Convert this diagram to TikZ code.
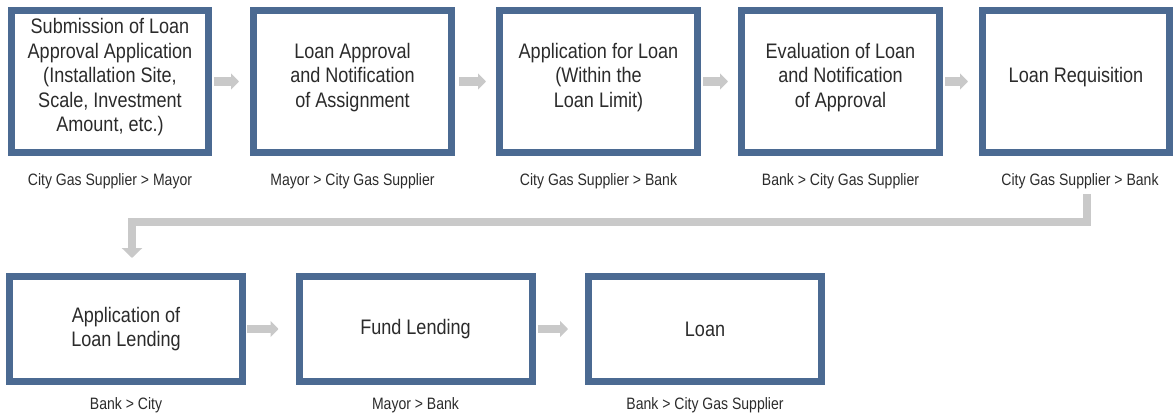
\documentclass[tikz,border=0pt]{standalone}
\usepackage{fontspec}
\setmainfont[FakeStretch=0.86]{Liberation Sans}
\newfontfamily\labfont[FakeStretch=0.85]{Liberation Sans}
\usetikzlibrary{arrows.meta}
\definecolor{boxblue}{HTML}{4B6A92}
\definecolor{arrgray}{HTML}{C9C9C9}
\definecolor{txt}{HTML}{2B2B2B}
\begin{document}
\begin{tikzpicture}[x=1pt,y=-1pt,
  stepbox/.style={draw=boxblue, line width=7pt, fill=white, inner sep=0pt},
  toprow/.style={stepbox, minimum height=142pt},
  botrow/.style={stepbox, minimum height=105pt, minimum width=233pt},
  boxtext/.style={align=center, text=txt, font=\fontsize{21}{24.5}\selectfont, inner sep=0pt},
  lab/.style={text=txt, font=\labfont\fontsize{16.5}{18}\selectfont, inner sep=0pt},
  arr/.style={draw=arrgray, line width=8.5pt, -{Triangle[width=16pt,length=8pt]}},
  looparr/.style={draw=arrgray, line width=8pt, line join=miter, -{Triangle[width=20pt,length=10pt]}}
]
\useasboundingbox (0,0) rectangle (1176,417);
% top row
\node[toprow, minimum width=197pt] (b1) at (110,81.5) {};
\node[toprow, minimum width=198pt] (b2) at (352.5,81.5) {};
\node[toprow, minimum width=198pt] (b3) at (598.5,81.5) {};
\node[toprow, minimum width=198pt] (b4) at (840.5,81.5) {};
\node[toprow, minimum width=187pt] (b5) at (1076,81.5) {};
\node[boxtext] (t1) at ([yshift=4pt]b1.center) {Submission of Loan\\Approval Application\\(Installation Site,\\Scale, Investment\\Amount, etc.)};
\node[boxtext] (t2) at ([yshift=4pt]b2.center) {Loan Approval\\and Notification\\of Assignment};
\node[boxtext] (t3) at ([yshift=4pt]b3.center) {Application for Loan\\(Within the\\Loan Limit)};
\node[boxtext] (t4) at ([yshift=4pt]b4.center) {Evaluation of Loan\\and Notification\\of Approval};
\node[boxtext] (t5) at ([yshift=4pt]b5.center) {Loan Requisition};
% bottom row
\node[botrow] (b6) at (126,329) {};
\node[botrow] (b7) at (415.5,329) {};
\node[botrow] (b8) at (705,329) {};
\node[boxtext] (t6) at (b6.center) {Application of\\Loan Lending};
\node[boxtext] (t7) at (b7.center) {Fund Lending};
\node[boxtext] (t8) at (b8.center) {Loan};
% labels
\node[lab] (l1) at (110,181) {City Gas Supplier > Mayor};
\node[lab] (l2) at (352.5,181) {Mayor > City Gas Supplier};
\node[lab] (l3) at (598.5,181) {City Gas Supplier > Bank};
\node[lab] (l4) at (840.5,181) {Bank > City Gas Supplier};
\node[lab] (l5) at (1080,181) {City Gas Supplier > Bank};
\node[lab] (l6) at (126,405) {Bank > City};
\node[lab] (l7) at (415.5,405) {Mayor > Bank};
\node[lab] (l8) at (705,405) {Bank > City Gas Supplier};
% arrows
\draw[arr] ([xshift=2pt]b1.east) -- ([xshift=-11pt]b2.west);
\draw[arr] ([xshift=4pt]b2.east) -- ([xshift=-10pt]b3.west);
\draw[arr] ([xshift=2pt]b3.east) -- ([xshift=-10pt]b4.west);
\draw[arr] ([xshift=2pt]b4.east) -- ([xshift=-11pt]b5.west);
\draw[arr] ([xshift=1pt]b6.east) -- ([xshift=-17pt]b7.west);
\draw[arr] ([xshift=2pt]b7.east) -- ([xshift=-17pt]b8.west);
% loop connector
\coordinate (ls) at (1087,194);
\coordinate (lc) at (132,222);
\draw[looparr, shorten >=15pt] (ls) |- (lc) -- (lc |- b6.north);
\end{tikzpicture}
\end{document}
